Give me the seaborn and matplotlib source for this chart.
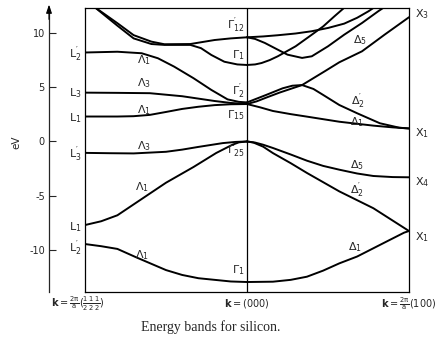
import numpy as np
import pandas as pd
import matplotlib
matplotlib.use("Agg")
import matplotlib.pyplot as plt
import seaborn as sns

# ---------------- data (k: 0 = L, 1 = Gamma, 2 = X ; E in eV) ----------------
# Lambda direction (L -> Gamma)
k_lam1_low = [0, 0.1, 0.2, 0.32, 0.5, 0.6, 0.7, 0.8, 0.9, 1.0]
E_lam1_low = [-9.45, -9.65, -9.9, -10.7, -11.85, -12.3, -12.6, -12.75, -12.9, -12.95]

k_lam1_val = [0, 0.1, 0.2, 0.36, 0.5, 0.67, 0.81, 0.91, 0.95, 1.0]
E_lam1_val = [-7.7, -7.35, -6.8, -5.2, -3.8, -2.35, -1.06, -0.3, -0.08, 0.0]

k_lam3_val = [0, 0.15, 0.3, 0.5, 0.6, 0.7, 0.85, 0.93, 1.0]
E_lam3_val = [-1.05, -1.08, -1.1, -0.95, -0.75, -0.5, -0.15, -0.04, 0.0]

k_lam1_c1 = [0, 0.2, 0.3, 0.4, 0.5, 0.6, 0.7, 0.8, 0.9, 1.0]
E_lam1_c1 = [2.3, 2.3, 2.33, 2.45, 2.72, 3.0, 3.2, 3.35, 3.43, 3.45]

k_lam3_c = [0, 0.2, 0.4, 0.6, 0.8, 0.9, 1.0]
E_lam3_c = [4.5, 4.48, 4.45, 4.17, 3.73, 3.55, 3.45]

k_lam1_c2 = [0, 0.2, 0.35, 0.45, 0.55, 0.67, 0.78, 0.88, 0.95, 1.0]
E_lam1_c2 = [8.2, 8.27, 8.13, 7.67, 6.9, 5.83, 4.75, 3.88, 3.65, 3.6]

k_lam_up1 = [0.056, 0.2, 0.3, 0.41, 0.49, 0.65, 0.8, 0.9, 1.0]
E_lam_up1 = [12.42, 10.9, 9.8, 9.2, 8.96, 8.98, 9.35, 9.5, 9.6]

k_lam_up2 = [0.056, 0.2, 0.3, 0.41, 0.49, 0.65, 0.716, 0.78, 0.86, 0.94, 1.0]
E_lam_up2 = [12.42, 10.67, 9.5, 8.98, 8.9, 8.9, 8.6, 7.97, 7.35, 7.1, 7.05]

# Delta direction (Gamma -> X)
k_del1_low = [1.0, 1.16, 1.27, 1.37, 1.47, 1.57, 1.68, 1.78, 1.88, 1.97, 2.0]
E_del1_low = [-12.95, -12.92, -12.75, -12.46, -11.9, -11.23, -10.6, -9.84, -9.08, -8.4, -8.25]

k_del2p_val = [1.0, 1.04, 1.1, 1.16, 1.27, 1.37, 1.57, 1.78, 2.0]
E_del2p_val = [0.0, -0.1, -0.48, -1.07, -2.0, -2.9, -4.6, -6.15, -8.25]

k_del5_val = [1.0, 1.05, 1.1, 1.16, 1.27, 1.37, 1.47, 1.57, 1.68, 1.78, 1.9, 2.0]
E_del5_val = [0.0, -0.1, -0.3, -0.6, -1.2, -1.77, -2.25, -2.6, -2.95, -3.18, -3.28, -3.3]

k_del1_c = [1.0, 1.08, 1.16, 1.27, 1.37, 1.57, 1.78, 1.9, 2.0]
E_del1_c = [3.45, 3.15, 2.81, 2.52, 2.29, 1.82, 1.46, 1.3, 1.2]

k_del2p_c = [1.0, 1.06, 1.12, 1.22, 1.28, 1.34, 1.41, 1.47, 1.57, 1.68, 1.82, 1.94, 2.0]
E_del2p_c = [3.6, 3.95, 4.3, 4.9, 5.14, 5.2, 4.84, 4.29, 3.36, 2.6, 1.68, 1.27, 1.2]

k_del5_c = [1.0, 1.06, 1.12, 1.2, 1.27, 1.34, 1.48, 1.57, 1.71, 1.85, 2.0]
E_del5_c = [3.45, 3.7, 4.05, 4.5, 4.85, 5.2, 6.47, 7.3, 8.31, 9.85, 11.45]

k_del_up1 = [1.0, 1.1, 1.19, 1.3, 1.4, 1.5, 1.6, 1.68, 1.75, 1.8]
E_del_up1 = [9.6, 9.68, 9.79, 9.95, 10.16, 10.46, 10.86, 11.4, 12.0, 12.5]

k_del_up2 = [1.0, 1.05, 1.09, 1.14, 1.19, 1.3, 1.4, 1.47, 1.54, 1.61]
E_del_up2 = [7.05, 7.1, 7.23, 7.5, 7.85, 8.77, 9.84, 10.6, 11.54, 12.45]

k_del_up3 = [1.0, 1.05, 1.11, 1.19, 1.25, 1.34, 1.4, 1.5, 1.6, 1.71, 1.81, 1.86]
E_del_up3 = [9.6, 9.45, 9.08, 8.46, 8.0, 7.7, 7.85, 8.77, 9.84, 10.92, 12.0, 12.5]

y_ticks = [-10, -5, 0, 5, 10]
y_limits = (-13.87, 12.3)

bands = {
    "lam1_low": (k_lam1_low, E_lam1_low), "lam1_val": (k_lam1_val, E_lam1_val),
    "lam3_val": (k_lam3_val, E_lam3_val), "lam1_c1": (k_lam1_c1, E_lam1_c1),
    "lam3_c": (k_lam3_c, E_lam3_c), "lam1_c2": (k_lam1_c2, E_lam1_c2),
    "lam_up1": (k_lam_up1, E_lam_up1), "lam_up2": (k_lam_up2, E_lam_up2),
    "del1_low": (k_del1_low, E_del1_low), "del2p_val": (k_del2p_val, E_del2p_val),
    "del5_val": (k_del5_val, E_del5_val), "del1_c": (k_del1_c, E_del1_c),
    "del2p_c": (k_del2p_c, E_del2p_c), "del5_c": (k_del5_c, E_del5_c),
    "del_up1": (k_del_up1, E_del_up1), "del_up2": (k_del_up2, E_del_up2),
    "del_up3": (k_del_up3, E_del_up3),
}
df = pd.concat([pd.DataFrame({"k": k, "E": E, "band": name})
                for name, (k, E) in bands.items()], ignore_index=True)

# ---------------- figure ----------------
sns.set_style("white")
plt.rcParams['font.family'] = ['DejaVu Sans']
plt.rcParams['mathtext.default'] = 'regular'
plt.rcParams['axes.unicode_minus'] = False

W, H = 438, 343
fig = plt.figure(figsize=(W / 100, H / 100), dpi=100)
px_l, px_r, px_t, px_b = 85, 409, 8, 292
ax = fig.add_axes([px_l / W, 1 - px_b / H, (px_r - px_l) / W, (px_b - px_t) / H])

sns.lineplot(data=df, x="k", y="E", units="band", estimator=None, sort=False,
             color="black", linewidth=1.4, ax=ax, legend=False)
for ln in ax.get_lines():
    ln.set_solid_joinstyle("round")
ax.axvline(1.0, color="black", lw=0.9)
ax.set_xlim(0, 2)
ax.set_ylim(*y_limits)
ax.set_xticks([])
ax.set_yticks([])
ax.set_xlabel("")
ax.set_ylabel("")
for s in ax.spines.values():
    s.set_visible(True)
    s.set_color("black")
    s.set_linewidth(0.9)

# separate energy axis with arrow
ay = fig.add_axes([49 / W, 1 - px_b / H, 0.0001, (px_b - px_t) / H])
ay.set_ylim(*y_limits)
ay.set_xticks([])
ay.set_yticks(y_ticks)
ay.set_yticklabels([str(t) for t in y_ticks])
for n, s in ay.spines.items():
    s.set_visible(n == "left")
ay.spines["left"].set_linewidth(0.9)
ay.tick_params(axis="y", direction="in", length=5, width=0.8, labelsize=7, pad=3,
               left=True, labelleft=True)
ay.patch.set_visible(False)
ay.annotate("", xy=(0, 1.012), xycoords="axes fraction", xytext=(0, 0.96),
            textcoords="axes fraction", annotation_clip=False,
            arrowprops=dict(arrowstyle="-|>,head_length=0.5,head_width=0.17",
                            color="black", lw=0.8, shrinkA=0, shrinkB=0))
fig.text(16 / W, 1 - 142 / H, "eV", rotation=90, ha="center", va="center", fontsize=7.5)

fs = 8
# L labels
for lab, E in [(r"$\mathrm{L}_{2}^{\prime}$", 8.06), (r"$\mathrm{L}_{3}$", 4.5),
               (r"$\mathrm{L}_{1}$", 2.2), (r"$\mathrm{L}_{3}^{\prime}$", -1.15),
               (r"$\mathrm{L}_{1}$", -7.93), (r"$\mathrm{L}_{2}^{\prime}$", -9.8)]:
    ax.text(-0.02, E, lab, ha="right", va="center", fontsize=fs, clip_on=False)
# X labels
for lab, E in [(r"$\mathrm{X}_{3}$", 11.75), (r"$\mathrm{X}_{1}$", 0.8),
               (r"$\mathrm{X}_{4}$", -3.73), (r"$\mathrm{X}_{1}$", -8.8)]:
    ax.text(2.035, E, lab, ha="left", va="center", fontsize=fs, clip_on=False)
# Lambda labels
for lab, k, E in [(r"$\Lambda_{1}$", 0.364, 7.51), (r"$\Lambda_{3}$", 0.364, 5.36),
                  (r"$\Lambda_{1}$", 0.364, 2.9), (r"$\Lambda_{3}$", 0.364, -0.41),
                  (r"$\Lambda_{1}$", 0.352, -4.17), (r"$\Lambda_{1}$", 0.352, -10.46)]:
    ax.text(k, E, lab, ha="center", va="center", fontsize=fs)
# Gamma labels
for lab, E in [(r"$\Gamma_{12}^{\prime}$", 10.74), (r"$\Gamma_{1}$", 7.97),
               (r"$\Gamma_{2}^{\prime}$", 4.59), (r"$\Gamma_{15}$", 2.44),
               (r"$\Gamma_{25}^{\prime}$", -0.78), (r"$\Gamma_{1}$", -11.84)]:
    ax.text(0.985, E, lab, ha="right", va="center", fontsize=fs)
# Delta labels
for lab, k, E in [(r"$\Delta_{5}$", 1.70, 9.35), (r"$\Delta_{2}^{\prime}$", 1.685, 3.67),
                  (r"$\Delta_{1}$", 1.68, 1.83), (r"$\Delta_{5}$", 1.68, -2.17),
                  (r"$\Delta_{2}^{\prime}$", 1.68, -4.47), (r"$\Delta_{1}$", 1.667, -9.7)]:
    ax.text(k, E, lab, ha="center", va="center", fontsize=fs)

# bottom k labels
yb = 1 - 304 / H
fig.text(78 / W, yb, r"$\mathbf{k}=\frac{2\pi}{a}(\frac{1}{2}\frac{1}{2}\frac{1}{2})$",
         ha="center", va="center", fontsize=7)
fig.text(247 / W, yb, r"$\mathbf{k}=(000)$", ha="center", va="center", fontsize=7)
fig.text(409 / W, yb, r"$\mathbf{k}=\frac{2\pi}{a}(100)$", ha="center", va="center", fontsize=7)

fig.text(211 / W, 1 - 327 / H, "Energy bands for silicon.", ha="center", va="center",
         fontsize=10, family=["Liberation Serif", "DejaVu Serif"])

fig.savefig("out.png", dpi=100)
